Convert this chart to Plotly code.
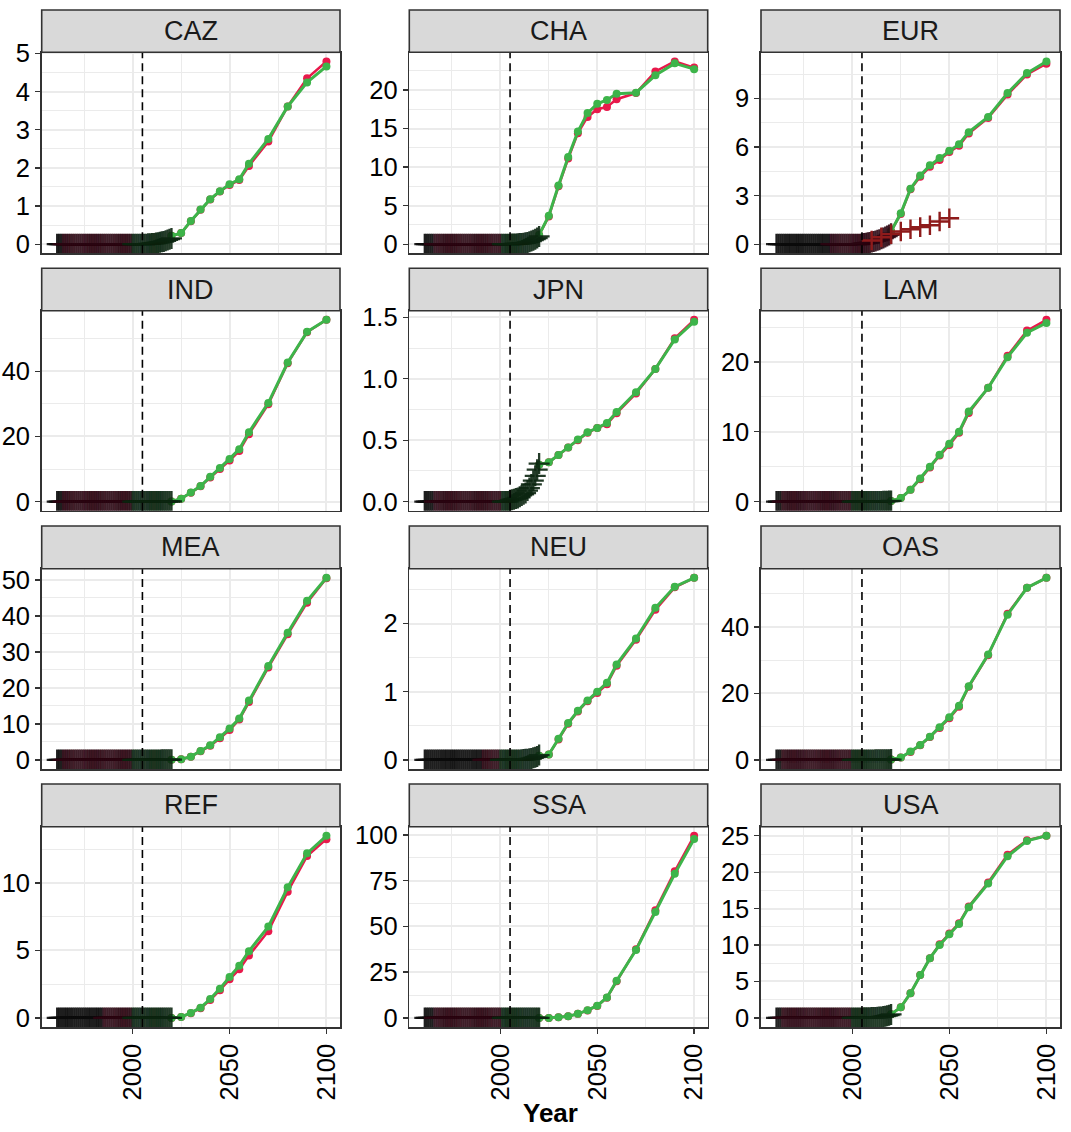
import plotly.graph_objects as go

# ---------------- data ----------------
regions = ["CAZ", "CHA", "EUR", "IND", "JPN", "LAM", "MEA", "NEU", "OAS", "REF", "SSA", "USA"]

proj_years = [2020, 2025, 2030, 2035, 2040, 2045, 2050, 2055, 2060, 2070, 2080, 2090, 2100]

green_vals = {
    "CAZ": [0.22, 0.29, 0.61, 0.91, 1.18, 1.39, 1.57, 1.70, 2.11, 2.76, 3.61, 4.24, 4.66],
    "CHA": [1.2, 3.7, 7.6, 11.3, 14.6, 17.0, 18.2, 18.7, 19.5, 19.65, 21.9, 23.45, 22.7],
    "EUR": [0.8, 1.91, 3.43, 4.25, 4.87, 5.32, 5.77, 6.18, 6.92, 7.86, 9.34, 10.57, 11.29],
    "IND": [0.05, 0.9, 2.8, 4.8, 7.6, 10.3, 13.1, 16.1, 21.3, 30.3, 42.7, 52.1, 55.8],
    "JPN": [0.3, 0.32, 0.38, 0.44, 0.505, 0.565, 0.60, 0.64, 0.73, 0.89, 1.08, 1.32, 1.465],
    "LAM": [0.1, 0.5, 1.7, 3.3, 5.0, 6.7, 8.3, 10.0, 12.9, 16.3, 20.7, 24.2, 25.6],
    "MEA": [0.05, 0.2, 0.9, 2.5, 4.05, 6.3, 8.7, 11.5, 16.5, 26.1, 35.3, 44.2, 50.6],
    "NEU": [0.06, 0.08, 0.31, 0.54, 0.72, 0.87, 1.0, 1.13, 1.40, 1.78, 2.23, 2.54, 2.67],
    "OAS": [0.1, 0.7, 2.5, 4.5, 7.0, 9.8, 12.8, 16.3, 22.2, 31.7, 43.7, 51.8, 54.8],
    "REF": [0.0, 0.07, 0.37, 0.76, 1.4, 2.17, 3.03, 3.87, 4.95, 6.77, 9.68, 12.2, 13.5],
    "SSA": [0.0, 0.0, 0.4, 0.9, 2.2, 4.2, 6.7, 11.2, 20.3, 37.1, 57.9, 78.7, 97.8],
    "USA": [0.5, 1.46, 3.4, 5.9, 8.2, 10.0, 11.5, 12.9, 15.2, 18.45, 22.2, 24.3, 25.0],
}

red_vals = {
    "CAZ": [0.22, 0.29, 0.60, 0.90, 1.17, 1.38, 1.55, 1.68, 2.05, 2.69, 3.61, 4.35, 4.79],
    "CHA": [1.2, 3.6, 7.5, 11.1, 14.4, 16.5, 17.5, 17.8, 18.8, 19.6, 22.4, 23.7, 22.9],
    "EUR": [0.8, 1.87, 3.39, 4.17, 4.78, 5.20, 5.69, 6.08, 6.84, 7.80, 9.24, 10.49, 11.15],
    "IND": [0.05, 0.9, 2.7, 4.7, 7.4, 10.0, 12.6, 15.5, 20.7, 29.9, 42.5, 52.0, 55.8],
    "JPN": [0.3, 0.32, 0.38, 0.44, 0.50, 0.56, 0.60, 0.63, 0.72, 0.88, 1.08, 1.33, 1.48],
    "LAM": [0.1, 0.5, 1.7, 3.2, 4.9, 6.6, 8.1, 9.85, 12.7, 16.3, 20.9, 24.5, 26.05],
    "MEA": [0.05, 0.2, 0.9, 2.4, 3.9, 6.0, 8.3, 11.2, 16.1, 25.7, 34.9, 43.7, 50.5],
    "NEU": [0.06, 0.08, 0.30, 0.53, 0.71, 0.86, 0.98, 1.11, 1.38, 1.76, 2.20, 2.53, 2.67],
    "OAS": [0.1, 0.7, 2.4, 4.4, 6.9, 9.6, 12.5, 16.0, 22.0, 31.5, 44.0, 51.8, 54.8],
    "REF": [0.0, 0.07, 0.35, 0.72, 1.33, 2.05, 2.86, 3.6, 4.63, 6.43, 9.36, 12.0, 13.25],
    "SSA": [0.0, 0.0, 0.4, 0.9, 2.2, 4.1, 6.5, 11.0, 20.0, 37.5, 58.8, 80.1, 99.5],
    "USA": [0.5, 1.46, 3.4, 5.9, 8.2, 10.1, 11.6, 13.0, 15.3, 18.6, 22.4, 24.4, 25.0],
}

# historical series: yearly 1961-2020; zero before 2005, explicit values 2005-2020
hist_first_year = 1961
hist_tail_years = list(range(2005, 2021))
hist_tail = {
    "CAZ": [0, 0, 0, 0.01, 0.01, 0.02, 0.02, 0.03, 0.04, 0.05, 0.06, 0.07, 0.09, 0.11, 0.13, 0.15],
    "CHA": [0, 0.01, 0.02, 0.03, 0.05, 0.07, 0.1, 0.13, 0.17, 0.22, 0.3, 0.4, 0.52, 0.65, 0.8, 1.0],
    "EUR": [0.02, 0.04, 0.06, 0.08, 0.1, 0.13, 0.16, 0.2, 0.24, 0.28, 0.33, 0.38, 0.44, 0.5, 0.57, 0.65],
    "IND": [0, 0, 0, 0, 0, 0, 0, 0, 0, 0, 0, 0.01, 0.01, 0.02, 0.03, 0.05],
    "JPN": [0.01, 0.015, 0.02, 0.025, 0.03, 0.04, 0.05, 0.06, 0.07, 0.09, 0.11, 0.14, 0.17, 0.21, 0.26, 0.31],
    "LAM": [0, 0, 0, 0, 0, 0, 0, 0.01, 0.01, 0.02, 0.03, 0.04, 0.05, 0.06, 0.08, 0.1],
    "MEA": [0, 0, 0, 0, 0, 0, 0, 0, 0, 0, 0.01, 0.01, 0.02, 0.03, 0.04, 0.05],
    "NEU": [0, 0, 0, 0, 0, 0, 0.003, 0.005, 0.008, 0.01, 0.015, 0.02, 0.03, 0.04, 0.05, 0.07],
    "OAS": [0, 0, 0, 0, 0, 0, 0, 0.01, 0.01, 0.02, 0.03, 0.04, 0.05, 0.06, 0.08, 0.1],
    "REF": [0, 0, 0, 0, 0, 0, 0, 0, 0, 0, 0, 0, 0, 0, 0, 0],
    "SSA": [0, 0, 0, 0, 0, 0, 0, 0, 0, 0, 0, 0, 0, 0, 0, 0],
    "USA": [0, 0.01, 0.01, 0.02, 0.03, 0.04, 0.05, 0.07, 0.09, 0.11, 0.14, 0.18, 0.23, 0.3, 0.38, 0.48],
}
# years where the historical band changes source (black -> dark red -> dark green)
hist_breaks = {
    "CAZ": (1963, 1999), "CHA": (1965, 2000), "EUR": (1988, 2020), "IND": (1963, 1999),
    "JPN": (1965, 2000), "LAM": (1963, 1999), "MEA": (1963, 1999), "NEU": (1990, 1999),
    "OAS": (1963, 1999), "REF": (1984, 1999), "SSA": (1965, 2000), "USA": (1963, 1999),
}

# extra EUR historical/target series
eur_extra_years = [2010, 2015, 2020, 2025, 2030, 2035, 2040, 2045, 2050]
eur_extra_vals = [0.23, 0.43, 0.62, 0.78, 0.92, 1.05, 1.17, 1.4, 1.6]

y_ticks = {
    "CAZ": [0, 1, 2, 3, 4, 5], "CHA": [0, 5, 10, 15, 20], "EUR": [0, 3, 6, 9],
    "IND": [0, 20, 40], "JPN": [0.0, 0.5, 1.0, 1.5], "LAM": [0, 10, 20],
    "MEA": [0, 10, 20, 30, 40, 50], "NEU": [0, 1, 2], "OAS": [0, 20, 40],
    "REF": [0, 5, 10], "SSA": [0, 25, 50, 75, 100], "USA": [0, 5, 10, 15, 20, 25],
}
y_ticktext = {"JPN": ["0.0", "0.5", "1.0", "1.5"]}

x_ticks = [2000, 2050, 2100]
x_minor = [1975, 2025, 2075]
vline_year = 2005
x_range = [1953, 2107]

# ---------------- layout geometry (pixels) ----------------
W, H = 1071, 1132
col_x = [(41.7, 340.0), (409.3, 707.7), (761.0, 1060.0)]
row_y = [(10.0, 52.3, 253.3), (268.3, 310.7, 510.7), (526.0, 568.7, 769.0), (784.0, 826.7, 1027.0)]

RED = "#E8194B"
GREEN = "#3DB44A"
HIST_COLS = ["#0d0d0d", "#2c0713", "#0c2611"]
FONT = "Liberation Sans, Arial, Helvetica, sans-serif"
GRID = "#EBEBEB"
BORDER = "#333333"
TICK_SIZE = 25.5
STRIP_SIZE = 27

fig = go.Figure()
shapes = []
annotations = []

for i, reg in enumerate(regions):
    r, c = divmod(i, 3)
    n = i + 1
    xs = "" if n == 1 else str(n)
    x0, x1 = col_x[c]
    st, pt, pb = row_y[r]

    # projections
    fig.add_trace(go.Scatter(
        x=proj_years, y=red_vals[reg], mode="lines+markers",
        line=dict(color=RED, width=2.5), marker=dict(color=RED, size=8),
        xaxis="x" + xs, yaxis="y" + xs, showlegend=False, hoverinfo="skip"))
    fig.add_trace(go.Scatter(
        x=proj_years, y=green_vals[reg], mode="lines+markers",
        line=dict(color=GREEN, width=3), marker=dict(color=GREEN, size=8),
        xaxis="x" + xs, yaxis="y" + xs, showlegend=False, hoverinfo="skip"))

    # historical band
    years = list(range(hist_first_year, 2021))
    vals = [0.0] * (hist_tail_years[0] - hist_first_year) + hist_tail[reg]
    b1, b2 = hist_breaks[reg]
    segs = [
        [(yr, v) for yr, v in zip(years, vals) if yr <= b1],
        [(yr, v) for yr, v in zip(years, vals) if b1 < yr <= b2],
        [(yr, v) for yr, v in zip(years, vals) if yr > b2],
    ]
    for seg, col in zip(segs, HIST_COLS):
        if not seg:
            continue
        fig.add_trace(go.Scatter(
            x=[p[0] for p in seg], y=[p[1] for p in seg], mode="markers",
            marker=dict(symbol="cross-thin", size=15, opacity=0.9,
                        line=dict(color=col, width=2.3)),
            xaxis="x" + xs, yaxis="y" + xs, showlegend=False, hoverinfo="skip"))

    if reg == "EUR":
        fig.add_trace(go.Scatter(
            x=eur_extra_years, y=eur_extra_vals, mode="markers",
            marker=dict(symbol="cross-thin", size=14, line=dict(color="#8E1B1B", width=2.4)),
            xaxis="x" + xs, yaxis="y" + xs, showlegend=False, hoverinfo="skip"))

    # y range (5% expansion as ggplot)
    allv = red_vals[reg] + green_vals[reg] + vals
    if reg == "EUR":
        allv = allv + eur_extra_vals
    ymin, ymax = min(allv), max(allv)
    span = ymax - ymin
    yr_ = [ymin - 0.05 * span, ymax + 0.05 * span]
    ticks = y_ticks[reg]
    step = ticks[1] - ticks[0]
    minors = [t + step / 2 for t in [ticks[0] - step] + ticks]
    minors = [m for m in minors if yr_[0] <= m <= yr_[1]]

    bottom = (r == 3)
    fig.layout["xaxis" + xs] = dict(
        domain=[x0 / W, x1 / W], anchor="y" + xs, range=x_range,
        tickmode="array", tickvals=x_ticks, ticktext=[str(t) for t in x_ticks],
        showticklabels=bottom, ticks="outside" if bottom else "", ticklen=5,
        tickwidth=1.3, tickcolor=BORDER, tickangle=-90,
        tickfont=dict(family=FONT, size=TICK_SIZE, color="#000000"),
        showgrid=True, gridcolor=GRID, gridwidth=2,
        minor=dict(tickvals=x_minor, showgrid=True, gridcolor=GRID, gridwidth=1),
        showline=True, linecolor=BORDER, linewidth=1.6, mirror=True,
        zeroline=False, automargin=False, fixedrange=True)
    fig.layout["yaxis" + xs] = dict(
        domain=[1 - pb / H, 1 - pt / H], anchor="x" + xs, range=yr_,
        tickmode="array", tickvals=ticks,
        ticktext=y_ticktext.get(reg, [str(t) for t in ticks]),
        ticks="outside", ticklen=5, tickwidth=1.3, tickcolor=BORDER,
        tickfont=dict(family=FONT, size=TICK_SIZE, color="#000000"),
        showgrid=True, gridcolor=GRID, gridwidth=2,
        minor=dict(tickvals=minors, showgrid=True, gridcolor=GRID, gridwidth=1),
        showline=True, linecolor=BORDER, linewidth=1.6, mirror=True,
        zeroline=False, automargin=False, fixedrange=True)

    # dashed vertical line
    shapes.append(dict(type="line", xref="x" + xs, yref="y" + xs + " domain",
                       x0=vline_year, x1=vline_year, y0=0, y1=1,
                       line=dict(color="#000000", width=1.6, dash="8px,5px"), layer="above"))
    # strip
    shapes.append(dict(type="rect", xref="paper", yref="paper",
                       x0=x0 / W, x1=x1 / W, y0=1 - pt / H, y1=1 - st / H,
                       fillcolor="#D9D9D9", line=dict(color=BORDER, width=1.6), layer="above"))
    annotations.append(dict(text=reg, xref="paper", yref="paper",
                            x=(x0 + x1) / 2 / W, y=1 - (st + pt) / 2 / H,
                            xanchor="center", yanchor="middle", showarrow=False,
                            font=dict(family=FONT, size=STRIP_SIZE, color="#1A1A1A")))

annotations.append(dict(text="<b>Year</b>", xref="paper", yref="paper",
                        x=(col_x[0][0] + col_x[2][1]) / 2 / W, y=1 - 1113 / H,
                        xanchor="center", yanchor="middle", showarrow=False,
                        font=dict(family=FONT, size=26, color="#000000")))

fig.update_layout(
    width=W, height=H, autosize=False,
    margin=dict(l=0, r=0, t=0, b=0),
    paper_bgcolor="white", plot_bgcolor="white",
    shapes=shapes, annotations=annotations, showlegend=False,
)

fig.write_html(
    "out.html",
    config={"displayModeBar": False, "staticPlot": True},
    post_script="document.body.style.margin='0';document.body.style.padding='0';"
                "document.documentElement.style.overflow='hidden';",
)
